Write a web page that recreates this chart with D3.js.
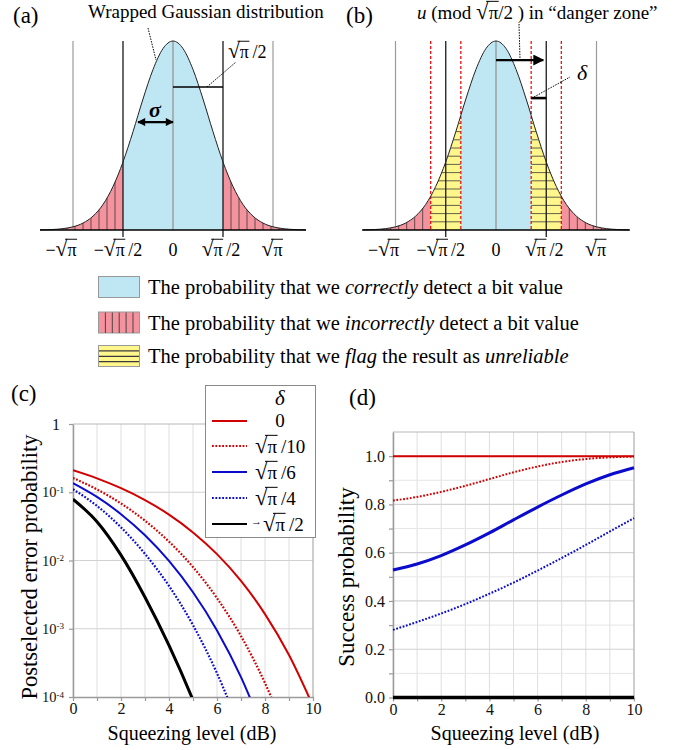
<!DOCTYPE html>
<html>
<head>
<meta charset="utf-8">
<script src="https://cdn.jsdelivr.net/npm/d3@7"></script>
<style>
body { margin:0; background:#fff; }
svg, svg text { font-family:"Liberation Serif","Times New Roman",serif; }
</style>
</head>
<body>
<svg id="fig" width="688" height="750"></svg>
<script>
// ---------- data ----------
// gaussian curve in panels (a),(b): position in units of sqrt(pi), relative height
var gaussX = [-1.33,-1.2,-1.1,-1.0,-0.9,-0.8,-0.7,-0.6,-0.5,-0.4,-0.3,-0.2,-0.1,0,
              0.1,0.2,0.3,0.4,0.5,0.6,0.7,0.8,0.9,1.0,1.1,1.2,1.33];
var gaussY = [0.0007,0.0028,0.0072,0.0169,0.0367,0.0734,0.135,0.230,0.360,0.520,0.693,0.849,0.960,1,
              0.960,0.849,0.693,0.520,0.360,0.230,0.135,0.0734,0.0367,0.0169,0.0072,0.0028,0.0007];
var sigmaA = 0.35;     // width of the sigma arrow, sqrt(pi) units
var deltaB = 0.15;     // half width of the danger zone in (b), sqrt(pi) units
var distTicks = [-1, -0.5, 0, 0.5, 1];
var distTickPre = ["\u2212", "\u2212", "", "", ""];
var distTickPost = ["", "\u2009/2", "", "\u2009/2", ""];

// squeezing level (dB)
var squeeze = [0,1,2,3,4,5,6,7,8,9,10];
// (c) postselected error probability
var errD0   = [0.2098,0.1597,0.1146,0.0767,0.0470,0.0258,0.0124,0.00503,0.00164,0.000412,0.000074];
var errD10  = [0.162,0.1101,0.0685,0.0383,0.0189,0.00802,0.00281,0.000781,0.00016,0.0000225];
var errD6   = [0.136,0.0853,0.0477,0.0234,0.00985,0.00342,0.000946,0.000196,0.000028];
var errD4   = [0.1107,0.0631,0.0306,0.0125,0.00424,0.00113,0.000223,0.0000307];
var errD2   = [0.079,0.037,0.012,0.0029,0.00057,0.00009,0.000011];
// (d) success probability
var succD0  = [1,1,1,1,1,1,1,1,1,1,1];
var succD10 = [0.816,0.831,0.852,0.877,0.905,0.933,0.957,0.976,0.988,0.995,0.998];
var succD6  = [0.528,0.553,0.588,0.632,0.682,0.736,0.789,0.839,0.885,0.923,0.952];
var succD4  = [0.280,0.313,0.348,0.387,0.430,0.476,0.526,0.578,0.632,0.688,0.743];
var succD2  = [0,0,0,0,0,0,0,0,0,0,0];

var errTicks = [1, 0.1, 0.01, 0.001, 0.0001];
var succTicks = [0,0.1,0.2,0.3,0.4,0.5,0.6,0.7,0.8,0.9,1.0];

var RED = "#d20000", BLUE = "#0b0bcc";
var series = [
	{lab:"0", pre:"",       post:"",           color:RED,    dash:null,      err:errD0,  succ:succD0,  wd:2},
	{lab:"r", pre:"",       post:"\u2009/10", color:RED,    dash:"1.8,1.6", err:errD10, succ:succD10, wd:2},
	{lab:"r", pre:"",       post:"\u2009/6",  color:BLUE,   dash:null,      err:errD6,  succ:succD6,  wd:3},
	{lab:"r", pre:"",       post:"\u2009/4",  color:BLUE,   dash:"1.8,1.6", err:errD4,  succ:succD4,  wd:2},
	{lab:"r", pre:"\u2192", post:"\u2009/2",  color:"#000", dash:null,      err:errD2,  succ:succD2,  wd:3.5}
];

var PINK = "#f4929e", SKY = "#bee6f3", YEL = "#fff68c";
var FONT = "Liberation Serif, Times New Roman, serif";

// ---------- helpers ----------
var svg = d3.select("#fig");
var defs = svg.append("defs");

function marker(id, w, h) {
	defs.append("marker").attr("id", id)
		.attr("viewBox", "0 0 10 10").attr("refX", 9).attr("refY", 5)
		.attr("markerUnits", "userSpaceOnUse")
		.attr("markerWidth", w).attr("markerHeight", h)
		.attr("orient", "auto-start-reverse")
		.append("path").attr("d", "M0,0L10,5L0,10z").attr("fill", "#000");
}
marker("arrA", 9, 8);
marker("arrB", 12, 11);

// bar over pi, starting at the top of the root sign at character idx
function vinculum(g, node, idx, y, size) {
	var r = node.getExtentOfChar(idx), p = node.getExtentOfChar(idx + 1);
	var yb = y - size * 0.93;
	g.append("line")
		.attr("x1", r.x + r.width * 0.8).attr("x2", p.x + p.width + 0.5)
		.attr("y1", yb).attr("y2", yb)
		.attr("stroke", "#000").attr("stroke-width", Math.max(0.9, size / 19));
}

// text with sqrt(pi): a larger root sign and a bar over pi
function rootText(g, x, y, pre, post, size, anchor) {
	var t = g.append("text").attr("x", x).attr("y", y)
		.attr("font-size", size).attr("text-anchor", anchor || "middle");
	if (pre) t.append("tspan").text(pre);
	t.append("tspan").attr("font-size", size * 1.2).text("\u221A");
	t.append("tspan").text("\u03C0");
	if (post) t.append("tspan").text(post);
	vinculum(g, t.node(), pre.length, y, size);
	return t;
}

// ---------- panels (a) and (b) ----------
var tickShift = [-12, -5, 0, -2, -1];

function drawDist(id, xs, ys, zones, lines) {
	var g = svg.append("g");
	var area = d3.area().x(function(d){return xs(d[0]);}).y0(ys(0))
		.y1(function(d){return ys(d[1]);}).curve(d3.curveMonotoneX);
	var line = d3.line().x(function(d){return xs(d[0]);})
		.y(function(d){return ys(d[1]);}).curve(d3.curveMonotoneX);
	var pts = d3.zip(gaussX, gaussY);

	defs.append("clipPath").attr("id", id).append("path").attr("d", area(pts));
	var cg = g.append("g").attr("clip-path", "url(#" + id + ")");

	zones.forEach(function(z) {
		var x0 = xs(z.x0), x1 = xs(z.x1);
		cg.append("rect").attr("x", x0).attr("y", ys(1) - 2)
			.attr("width", x1 - x0).attr("height", ys(0) - ys(1) + 2)
			.attr("fill", z.fill);
		if (z.hatch === "v") {
			var from = z.side < 0 ? x1 : x0;
			d3.range(1, 16).forEach(function(k) {
				var xx = from + z.side * 8 * k;
				cg.append("line").attr("x1", xx).attr("x2", xx)
					.attr("y1", ys(1)).attr("y2", ys(0))
					.attr("stroke", "#3a3a3a").attr("stroke-width", 0.8);
			});
		} else if (z.hatch === "h") {
			d3.range(1, 24).forEach(function(k) {
				var yy = ys(0) - 8.2 * k;
				cg.append("line").attr("x1", x0).attr("x2", x1)
					.attr("y1", yy).attr("y2", yy)
					.attr("stroke", "#3a3a3a").attr("stroke-width", 0.8);
			});
		}
	});

	// reference lines
	lines.forEach(function(l) {
		g.append("line").attr("x1", xs(l.x)).attr("x2", xs(l.x))
			.attr("y1", ys(1)).attr("y2", ys(0) + (l.ext || 0))
			.attr("stroke", l.color).attr("stroke-width", l.w)
			.attr("stroke-dasharray", l.dash || null);
	});

	g.append("path").attr("d", line(pts)).attr("fill", "none")
		.attr("stroke", "#222").attr("stroke-width", 1);
	g.append("line").attr("x1", xs(gaussX[0])).attr("x2", xs(gaussX[gaussX.length - 1]))
		.attr("y1", ys(0)).attr("y2", ys(0)).attr("stroke", "#000").attr("stroke-width", 1.6);

	distTicks.forEach(function(v, i) {
		var xx = xs(v) + tickShift[i];
		if (v === 0) {
			g.append("text").attr("x", xx).attr("y", 256).attr("font-size", 18)
				.attr("text-anchor", "middle").text("0");
		} else {
			rootText(g, xx, 256, distTickPre[i], distTickPost[i], 18, "middle");
		}
	});
	return g;
}

var xA = d3.scaleLinear().domain([-1, 1]).range([73, 273]);
var yA = d3.scaleLinear().domain([0, 1]).range([230, 41]);
var xB = d3.scaleLinear().domain([-1, 1]).range([395.5, 596.5]);
var yB = yA;

var refLines = [
	{x:-1, color:"#9a9a9a", w:1.2}, {x:0, color:"#9a9a9a", w:1.4}, {x:1, color:"#9a9a9a", w:1.2},
	{x:-0.5, color:"#1a1a1a", w:1.3, ext:7}, {x:0.5, color:"#1a1a1a", w:1.3, ext:7}
];

drawDist("clipA", xA, yA, [
	{x0:-1.5, x1:-0.5, fill:PINK, hatch:"v", side:-1},
	{x0:-0.5, x1:0.5, fill:SKY},
	{x0:0.5, x1:1.5, fill:PINK, hatch:"v", side:1}
], refLines);

drawDist("clipB", xB, yB, [
	{x0:-1.5, x1:-0.5 - deltaB, fill:PINK, hatch:"v", side:-1},
	{x0:-0.5 - deltaB, x1:-0.5 + deltaB, fill:YEL, hatch:"h"},
	{x0:-0.5 + deltaB, x1:0.5 - deltaB, fill:SKY},
	{x0:0.5 - deltaB, x1:0.5 + deltaB, fill:YEL, hatch:"h"},
	{x0:0.5 + deltaB, x1:1.5, fill:PINK, hatch:"v", side:1}
], refLines.concat([-0.5 - deltaB, -0.5 + deltaB, 0.5 - deltaB, 0.5 + deltaB].map(function(v) {
	return {x:v, color:"#ee1111", w:1.3, dash:"3,2"};
})));

// annotations (a)
svg.append("text").attr("x", 13).attr("y", 23).attr("font-size", 23).text("(a)");
svg.append("text").attr("x", 88).attr("y", 18).attr("font-size", 19).text("Wrapped Gaussian distribution");
svg.append("line").attr("x1", 148).attr("y1", 28).attr("x2", 156).attr("y2", 60)
	.attr("stroke", "#000").attr("stroke-width", 1).attr("stroke-dasharray", "1.5,1.2");
svg.append("line").attr("x1", xA(0)).attr("x2", xA(0.5)).attr("y1", yA(0.757)).attr("y2", yA(0.757))
	.attr("stroke", "#000").attr("stroke-width", 1.6);
svg.append("line").attr("x1", 207).attr("y1", yA(0.757)).attr("x2", 236).attr("y2", 62)
	.attr("stroke", "#000").attr("stroke-width", 1).attr("stroke-dasharray", "1.5,1.2");
rootText(svg, 228, 58, "", "\u2009/2", 18, "start");
svg.append("line").attr("x1", xA(-sigmaA)).attr("x2", xA(0)).attr("y1", yA(0.571)).attr("y2", yA(0.571))
	.attr("stroke", "#000").attr("stroke-width", 2.2)
	.attr("marker-start", "url(#arrA)").attr("marker-end", "url(#arrA)");
svg.append("text").attr("x", 155).attr("y", 117).attr("font-size", 22)
	.attr("font-style", "italic").attr("font-weight", "bold").attr("text-anchor", "middle").text("\u03C3");

// annotations (b)
svg.append("text").attr("x", 346).attr("y", 23).attr("font-size", 23).text("(b)");
var tb = svg.append("text").attr("x", 417).attr("y", 19).attr("font-size", 19);
tb.append("tspan").attr("font-style", "italic").text("u");
tb.append("tspan").text(" (mod ");
tb.append("tspan").attr("font-size", 19 * 1.2).text("\u221A");
tb.append("tspan").text("\u03C0/2 ) in \u201Cdanger zone\u201D");
vinculum(svg, tb.node(), "u (mod ".length, 19, 19);
svg.append("line").attr("x1", 519).attr("y1", 24).attr("x2", 520).attr("y2", 59)
	.attr("stroke", "#000").attr("stroke-width", 1).attr("stroke-dasharray", "1.5,1.2");
svg.append("line").attr("x1", xB(0)).attr("x2", xB(0.47)).attr("y1", yB(0.899)).attr("y2", yB(0.899))
	.attr("stroke", "#000").attr("stroke-width", 2.2).attr("marker-end", "url(#arrB)");
svg.append("line").attr("x1", xB(0.5 - deltaB)).attr("x2", xB(0.5)).attr("y1", yB(0.698)).attr("y2", yB(0.698))
	.attr("stroke", "#000").attr("stroke-width", 2.6);
svg.append("line").attr("x1", 534).attr("y1", 97).attr("x2", 570).attr("y2", 77)
	.attr("stroke", "#000").attr("stroke-width", 1).attr("stroke-dasharray", "1.5,1.2");
svg.append("text").attr("x", 577).attr("y", 80).attr("font-size", 22)
	.attr("font-style", "italic").text("\u03B4");

// ---------- region legend ----------
var legRows = [
	[["The probability that we ", 0], ["correctly", 1], [" detect a bit value", 0]],
	[["The probability that we ", 0], ["incorrectly", 1], [" detect a bit value", 0]],
	[["The probability that we ", 0], ["flag", 1], [" the result as ", 0], ["unreliable", 1]]
];
var legY = [276, 311.5, 345];
var legFill = [SKY, PINK, YEL];
legRows.forEach(function(row, i) {
	var y0 = legY[i];
	svg.append("rect").attr("x", 98.5).attr("y", y0 + 0.5).attr("width", 41).attr("height", 21)
		.attr("fill", legFill[i]).attr("stroke", "#999").attr("stroke-width", 1);
	if (i === 1) {
		d3.range(1, 6).forEach(function(k) {
			var xx = 98.5 + k * 6.9;
			svg.append("line").attr("x1", xx).attr("x2", xx).attr("y1", y0 + 1).attr("y2", y0 + 21.5)
				.attr("stroke", "#3a3a3a").attr("stroke-width", 0.9);
		});
	}
	if (i === 2) {
		d3.range(1, 4).forEach(function(k) {
			var yy = y0 + 0.5 + k * 5.4;
			svg.append("line").attr("x1", 99).attr("x2", 139).attr("y1", yy).attr("y2", yy)
				.attr("stroke", "#3a3a3a").attr("stroke-width", 1.3);
		});
	}
	var t = svg.append("text").attr("x", 148).attr("y", y0 + 18).attr("font-size", 20.5);
	row.forEach(function(p) {
		t.append("tspan").attr("font-style", p[1] ? "italic" : null).text(p[0]);
	});
});

// ---------- panel (c) ----------
var xC = d3.scaleLinear().domain([0, 10]).range([73, 313]);
var yC = d3.scaleLog().domain([1e-4, 1]).range([697, 424]);
var gc = svg.append("g");

function frame(g, xs, ys, xTicks, yTicks, yMajor) {
	var x0 = xs.range()[0], x1 = xs.range()[1], y0 = ys.range()[0], y1 = ys.range()[1];
	xTicks.forEach(function(v) {
		g.append("line").attr("x1", xs(v)).attr("x2", xs(v)).attr("y1", y0).attr("y2", y1)
			.attr("stroke", "#dedede").attr("stroke-width", 1);
	});
	yTicks.forEach(function(v) {
		g.append("line").attr("x1", x0).attr("x2", x1).attr("y1", ys(v)).attr("y2", ys(v))
			.attr("stroke", yMajor(v) ? "#d2d2d2" : "#e6e6e6").attr("stroke-width", yMajor(v) ? 1.2 : 1);
	});
	g.append("line").attr("x1", x0).attr("x2", x1).attr("y1", y1).attr("y2", y1)
		.attr("stroke", "#b8b8b8").attr("stroke-width", 1.2);
	g.append("line").attr("x1", x1).attr("x2", x1).attr("y1", y0).attr("y2", y1)
		.attr("stroke", "#b8b8b8").attr("stroke-width", 1.2);
}

function styleAxis(g) {
	g.attr("font-family", FONT).attr("font-size", 16);
	g.select(".domain").attr("stroke", "#9a9a9a").attr("stroke-width", 1.5);
	g.selectAll(".tick line").attr("stroke", "#9a9a9a").attr("stroke-width", 1.2);
	g.selectAll(".tick text").attr("fill", "#111");
}

frame(gc, xC, yC, squeeze, [0.1, 0.01, 0.001], function(){ return true; });

gc.append("g").attr("transform", "translate(0," + yC(1e-4) + ")")
	.call(d3.axisBottom(xC).tickValues(squeeze).tickSize(4).tickSizeOuter(0).tickPadding(2)
		.tickFormat(function(d){ return d % 2 ? "" : d; }))
	.call(styleAxis);
gc.append("g").attr("transform", "translate(" + xC(0) + ",0)")
	.call(d3.axisLeft(yC).tickValues(errTicks).tickSize(4).tickSizeOuter(0).tickPadding(5)
		.tickFormat(function(){ return ""; }))
	.call(styleAxis)
	.call(function(g) {
		g.selectAll(".tick text").attr("font-size", 14.5).each(function(d) {
			var e = Math.round(Math.log10(d)), t = d3.select(this);
			if (e === 0) { t.text("1").attr("dx", -4).attr("font-size", 16); return; }
			t.append("tspan").text("10");
			t.append("tspan").attr("dy", "-0.5em").attr("font-size", 9).text(String(e));
		});
	});

defs.append("clipPath").attr("id", "clipC").append("rect")
	.attr("x", xC(0)).attr("y", yC(1)).attr("width", xC(10) - xC(0)).attr("height", yC(1e-4) - yC(1));
var lineC = d3.line().x(function(d){ return xC(d[0]); }).y(function(d){ return yC(d[1]); })
	.curve(d3.curveMonotoneX);
var cl = gc.append("g").attr("clip-path", "url(#clipC)");
series.forEach(function(s) {
	cl.append("path").attr("d", lineC(d3.zip(squeeze, s.err)))
		.attr("fill", "none").attr("stroke", s.color)
		.attr("stroke-width", s.dash ? 2.2 : (s.color === "#000" ? 3 : 2))
		.attr("stroke-dasharray", s.dash);
});

gc.append("text").attr("x", 192).attr("y", 740).attr("font-size", 20)
	.attr("text-anchor", "middle").text("Squeezing level (dB)");
gc.append("text").attr("transform", "translate(37,567) rotate(-90)").attr("font-size", 22.5)
	.attr("text-anchor", "middle").text("Postselected error probability");
svg.append("text").attr("x", 11).attr("y", 401).attr("font-size", 23).text("(c)");

// legend of (c)
var lg = svg.append("g");
lg.append("rect").attr("x", 205.5).attr("y", 385.5).attr("width", 110).attr("height", 152)
	.attr("fill", "#fff").attr("stroke", "#8a8a8a").attr("stroke-width", 1);
lg.append("text").attr("x", 280).attr("y", 405).attr("font-size", 21)
	.attr("font-style", "italic").attr("text-anchor", "middle").text("\u03B4");
var rowY = [421, 446, 472, 498, 524];
series.forEach(function(s, i) {
	var y = rowY[i];
	lg.append("line").attr("x1", 212).attr("x2", 247).attr("y1", y).attr("y2", y)
		.attr("stroke", s.color).attr("stroke-width", 2.2).attr("stroke-dasharray", s.dash);
	if (s.lab === "0") {
		lg.append("text").attr("x", 280).attr("y", y + 6).attr("font-size", 19)
			.attr("text-anchor", "middle").text("0");
	} else {
		var xx = 255;
		if (s.pre) {
			lg.append("text").attr("x", 251).attr("y", y + 1).attr("font-size", 11).text(s.pre);
			xx = 263;
		}
		rootText(lg, xx, y + 7, "", s.post, 19, "start");
	}
});

// ---------- panel (d) ----------
var xD = d3.scaleLinear().domain([0, 10]).range([393, 634]);
var yD = d3.scaleLinear().domain([0, 1.1]).range([697.5, 432]);
var gd = svg.append("g");
frame(gd, xD, yD, squeeze, succTicks, function(v){ return Math.round(v * 10) % 2 === 0; });

gd.append("g").attr("transform", "translate(0," + yD(0) + ")")
	.call(d3.axisBottom(xD).tickValues(squeeze).tickSize(4).tickSizeOuter(0).tickPadding(2)
		.tickFormat(function(d){ return d % 2 ? "" : d; }))
	.call(styleAxis);
gd.append("g").attr("transform", "translate(" + xD(0) + ",0)")
	.call(d3.axisLeft(yD).tickValues(succTicks).tickSize(4).tickSizeOuter(0).tickPadding(4)
		.tickFormat(function(d){ return Math.round(d * 10) % 2 ? "" : d3.format(".1f")(d); }))
	.call(styleAxis);

var lineD = d3.line().x(function(d){ return xD(d[0]); }).y(function(d){ return yD(d[1]); })
	.curve(d3.curveMonotoneX);
series.forEach(function(s) {
	gd.append("path").attr("d", lineD(d3.zip(squeeze, s.succ)))
		.attr("fill", "none").attr("stroke", s.color).attr("stroke-width", s.wd)
		.attr("stroke-dasharray", s.dash);
});

gd.append("text").attr("x", 515).attr("y", 740).attr("font-size", 20)
	.attr("text-anchor", "middle").text("Squeezing level (dB)");
gd.append("text").attr("transform", "translate(354,577) rotate(-90)").attr("font-size", 23)
	.attr("text-anchor", "middle").text("Success probability");
svg.append("text").attr("x", 349).attr("y", 405).attr("font-size", 23).text("(d)");
</script>
</body>
</html>
